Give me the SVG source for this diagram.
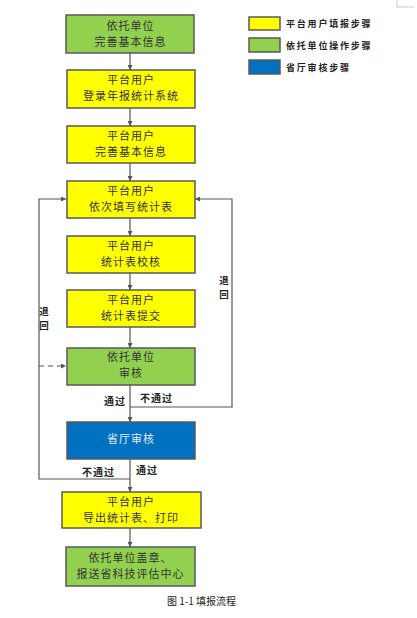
<svg xmlns="http://www.w3.org/2000/svg" width="417" height="618" viewBox="0 0 417 618">
<defs>
<marker id="ah" viewBox="0 0 8 8" refX="8" refY="4" markerWidth="5" markerHeight="5" orient="auto" markerUnits="userSpaceOnUse">
<path d="M0,0 L8,4 L0,8 Z" fill="#555"/>
</marker>
<style>
.box{stroke:#595959;stroke-width:1.5}
.y{fill:#FFFF00}
.g{fill:#92D050}
.b{fill:#0070C0}
.t{font-family:"Noto Sans CJK SC","Noto Sans",sans-serif;font-size:11px;fill:#333;text-anchor:middle;letter-spacing:1px}
.tw{fill:#E8EEF5}
.lbl{font-family:"Noto Sans CJK SC",sans-serif;font-size:10px;font-weight:bold;fill:#222;letter-spacing:1px}
.v{font-size:9.5px;letter-spacing:0;text-anchor:middle}
.lg{font-family:"Noto Sans CJK SC",sans-serif;font-size:9px;font-weight:bold;fill:#222;letter-spacing:1.8px}
.c{fill:none;stroke:#555;stroke-width:1.2}
</style>
</defs>
<rect width="417" height="618" fill="#fff"/>
<polyline points="397,0 397,7 414,7" fill="none" stroke="#bbb" stroke-width="0.8"/>

<g id="legend">
<rect x="249" y="17" width="31" height="13" class="box y" stroke-width="1"/>
<text x="286" y="27" class="lg">平台用户填报步骤</text>
<rect x="249" y="38" width="31" height="14" class="box g" stroke-width="1"/>
<text x="286" y="48.5" class="lg">依托单位操作步骤</text>
<rect x="249" y="60" width="31" height="14" class="box b" stroke-width="1"/>
<text x="286" y="70.5" class="lg">省厅审核步骤</text>
</g>

<g id="connectors">
<line x1="130" y1="53" x2="130" y2="70" class="c" marker-end="url(#ah)"/>
<line x1="130" y1="108" x2="130" y2="126" class="c" marker-end="url(#ah)"/>
<line x1="130" y1="163" x2="130" y2="181" class="c" marker-end="url(#ah)"/>
<line x1="130" y1="218" x2="130" y2="236" class="c" marker-end="url(#ah)"/>
<line x1="130" y1="273" x2="130" y2="290" class="c" marker-end="url(#ah)"/>
<line x1="130" y1="327" x2="130" y2="348" class="c" marker-end="url(#ah)"/>
<line x1="130" y1="385" x2="130" y2="422" class="c" marker-end="url(#ah)"/>
<line x1="130" y1="459" x2="130" y2="492" class="c" marker-end="url(#ah)"/>
<line x1="130" y1="528" x2="130" y2="547" class="c" marker-end="url(#ah)"/>
<polyline points="130,479 39,479 39,199 66,199" class="c" marker-end="url(#ah)"/>
<polyline points="130,407 232,407 232,199 195,199" class="c" marker-end="url(#ah)"/>
<line x1="39" y1="366" x2="66" y2="366" class="c" stroke-dasharray="5,4" marker-end="url(#ah)"/>
<text x="104" y="405" class="lbl">通过</text>
<text x="140" y="402" class="lbl">不通过</text>
<text x="82" y="476" class="lbl">不通过</text>
<text x="136" y="474" class="lbl">通过</text>
<text class="lbl v"><tspan x="44" y="315">退</tspan><tspan x="44" y="329">回</tspan></text>
<text class="lbl v"><tspan x="224" y="284">退</tspan><tspan x="224" y="298">回</tspan></text>
</g>

<g id="n1">
<rect x="66" y="15" width="128" height="38" class="box g"/>
<text class="t"><tspan x="130.5" y="30">依托单位</tspan><tspan x="130.5" y="46">完善基本信息</tspan></text>
</g>
<g id="n2">
<rect x="67" y="70" width="128" height="38" class="box y"/>
<text class="t"><tspan x="131" y="84">平台用户</tspan><tspan x="131" y="100">登录年报统计系统</tspan></text>
</g>
<g id="n3">
<rect x="67" y="126" width="128" height="37" class="box y"/>
<text class="t"><tspan x="131" y="140">平台用户</tspan><tspan x="131" y="156">完善基本信息</tspan></text>
</g>
<g id="n4">
<rect x="67" y="181" width="128" height="37" class="box y"/>
<text class="t"><tspan x="131" y="195">平台用户</tspan><tspan x="131" y="211">依次填写统计表</tspan></text>
</g>
<g id="n5">
<rect x="67" y="236" width="128" height="37" class="box y"/>
<text class="t"><tspan x="131" y="250">平台用户</tspan><tspan x="131" y="266">统计表校核</tspan></text>
</g>
<g id="n6">
<rect x="67" y="290" width="128" height="37" class="box y"/>
<text class="t"><tspan x="131" y="304">平台用户</tspan><tspan x="131" y="320">统计表提交</tspan></text>
</g>
<g id="n7">
<rect x="67" y="348" width="128" height="37" class="box g"/>
<text class="t"><tspan x="131" y="361">依托单位</tspan><tspan x="131" y="377">审核</tspan></text>
</g>
<g id="n8">
<rect x="67" y="422" width="128" height="37" class="box b"/>
<text x="131" y="443" class="t tw">省厅审核</text>
</g>
<g id="n9">
<rect x="62" y="492" width="139" height="36" class="box y"/>
<text class="t"><tspan x="131" y="505.5">平台用户</tspan><tspan x="131" y="521.5">导出统计表、打印</tspan></text>
</g>
<g id="n10">
<rect x="66" y="547" width="129" height="39" class="box g"/>
<text class="t"><tspan x="130.5" y="562">依托单位盖章、</tspan><tspan x="130.5" y="578">报送省科技评估中心</tspan></text>
</g>

<text x="167" y="605" font-family="'Noto Sans CJK SC',sans-serif" font-size="10" fill="#222">图 1-1 填报流程<tspan fill="#bbb">.</tspan></text>
</svg>
